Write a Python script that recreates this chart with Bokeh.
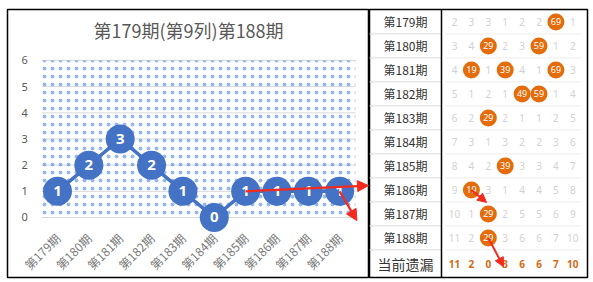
import math
from bokeh.plotting import figure
from bokeh.models import (Range1d, FixedTicker, Label, Arrow, NormalHead, Span,
                          ColumnDataSource)
from bokeh.layouts import row
from bokeh.embed import file_html
from bokeh.resources import INLINE
from bokeh.core.properties import value

# ---------------- data ----------------
periods = ["第179期", "第180期", "第181期", "第182期", "第183期",
           "第184期", "第185期", "第186期", "第187期", "第188期"]
counts = [1, 2, 3, 2, 1, 0, 1, 1, 1, 1]
y_ticks = [0, 1, 2, 3, 4, 5, 6]
title_text = "第179期(第9列)第188期"

table_rows = [
    ["2", "3", "3", "1", "2", "2", "69", "1"],
    ["3", "4", "29", "2", "3", "59", "1", "2"],
    ["4", "19", "1", "39", "4", "1", "69", "3"],
    ["5", "1", "2", "1", "49", "59", "1", "4"],
    ["6", "2", "29", "2", "1", "1", "2", "5"],
    ["7", "3", "1", "3", "2", "2", "3", "6"],
    ["8", "4", "2", "39", "3", "3", "4", "7"],
    ["9", "19", "3", "1", "4", "4", "5", "8"],
    ["10", "1", "29", "2", "5", "5", "6", "9"],
    ["11", "2", "29", "3", "6", "6", "7", "10"],
]
hit_values = ["19", "29", "39", "49", "59", "69"]
current_label = "当前遗漏"
current_miss = [11, 2, 0, 3, 6, 6, 7, 10]

CJK = "Noto Sans CJK SC"
NUM = "Noto Sans"
BLUE = "#4472C4"
ORANGE = "#E46C0A"
RED = "#F52A1E"

# ---------------- chart ----------------
p = figure(width=369, height=282, output_backend="svg", toolbar_location=None,
           x_range=Range1d(-1.595, 9.952), y_range=Range1d(-2.293, 7.948),
           min_border_left=7, min_border_right=0, min_border_top=9,
           min_border_bottom=5, outline_line_color="black",
           outline_line_width=1.5, background_fill_color="white",
           border_fill_color="white")
p.grid.visible = False

xs = list(range(len(periods)))

# y axis
p.yaxis.fixed_location = -0.5
p.yaxis.ticker = FixedTicker(ticks=y_ticks)
p.yaxis.axis_line_color = None
p.yaxis.major_tick_line_color = None
p.yaxis.minor_tick_line_color = None
p.yaxis.major_label_standoff = 8
p.yaxis.major_label_text_font = NUM
p.yaxis.major_label_text_font_size = "11px"
p.yaxis.major_label_text_color = "#595959"

# x axis
p.xaxis.fixed_location = -0.35
p.xaxis.ticker = FixedTicker(ticks=xs)
p.xaxis.major_label_overrides = {i: s for i, s in zip(xs, periods)}
p.xaxis.major_label_orientation = math.pi / 4
p.xaxis.axis_line_color = None
p.xaxis.major_tick_line_color = None
p.xaxis.minor_tick_line_color = None
p.xaxis.major_label_standoff = 3
p.xaxis.major_label_text_font = CJK
p.xaxis.major_label_text_font_size = "12px"
p.xaxis.major_label_text_color = "#7a7a7a"

# gridlines
p.segment(x0=[-0.5] * len(y_ticks), x1=[len(periods) - 0.5] * len(y_ticks),
          y0=y_ticks, y1=y_ticks, line_color="#d9d9d9", line_width=1)

# dotted plot area
p.quad(left=[-0.5], right=[len(periods) - 0.5], bottom=[y_ticks[0]],
       top=[y_ticks[-1]], fill_alpha=0, line_color=None,
       hatch_pattern="dot", hatch_color="#2f72dc", hatch_scale=8,
       hatch_weight=0.5, hatch_alpha=0.5)

src = ColumnDataSource(dict(x=xs, y=counts, t=[str(c) for c in counts]))
p.line("x", "y", source=src, line_color=BLUE, line_width=3.5)
p.scatter("x", "y", source=src, size=29, fill_color=BLUE, line_color=None)
p.text("x", "y", text="t", source=src, text_color="white",
       text_font=value(NUM), text_font_size="15px", text_font_style="bold",
       text_align="center", text_baseline="middle")

p.add_layout(Label(x=4.18, y=7.17, text=title_text, text_font=CJK,
                   text_font_size="18px", text_color="#595959",
                   text_align="center", text_baseline="middle"))

head = dict(size=11, fill_color=RED, line_color=RED)
p.add_layout(Arrow(end=NormalHead(**head), x_start=xs[6], y_start=counts[6],
                   x_end=9.92, y_end=1.22, line_color=RED, line_width=2.2))
p.add_layout(Arrow(end=NormalHead(**head), x_start=xs[9], y_start=counts[9],
                   x_end=9.55, y_end=-0.12, line_color=RED, line_width=2.2))

# ---------------- table ----------------
n = len(table_rows)
t = figure(width=224, height=282, output_backend="svg", toolbar_location=None,
           x_range=Range1d(-5.03, 7.87), y_range=Range1d(10.65, -0.517),
           min_border_left=0, min_border_right=6, min_border_top=9,
           min_border_bottom=5, outline_line_color="black",
           outline_line_width=1.5, background_fill_color="white",
           border_fill_color="white")
t.axis.visible = False
t.grid.visible = False

LABEL_X = -2.9
DIV_X = -0.77
cur_y = n + 0.1

# separators
seps = [i + 0.5 for i in range(n)]
t.segment(x0=[-5.1] * n, x1=[DIV_X] * n, y0=seps, y1=seps,
          line_color="#dadada", line_width=1)
t.segment(x0=[-0.55] * n, x1=[7.5] * n, y0=seps, y1=seps,
          line_color="#ececec", line_width=1)
t.add_layout(Span(location=DIV_X, dimension="height", line_color="black",
                  line_width=1.5))

t.text(x=[LABEL_X] * n, y=list(range(n)), text=periods, text_color="#333333",
       text_font=value(CJK), text_font_size="12px", text_align="center",
       text_baseline="middle")
t.text(x=[LABEL_X], y=[cur_y], text=[current_label], text_color="#333333",
       text_font=value(CJK), text_font_size="14px", text_align="center",
       text_baseline="middle")

gx, gy, gt, hx, hy, ht = [], [], [], [], [], []
for i, r in enumerate(table_rows):
    for j, v in enumerate(r):
        if v in hit_values and v[0] == str(j):
            hx.append(j); hy.append(i); ht.append(v)
        else:
            gx.append(j); gy.append(i); gt.append(v)

t.text(x=gx, y=gy, text=gt, text_color="#d2d2d2", text_font=value(NUM),
       text_font_size="10px", text_align="center", text_baseline="middle")
t.scatter(x=hx, y=hy, size=17, fill_color=ORANGE, line_color=None)
t.text(x=hx, y=hy, text=ht, text_color="white", text_font=value(NUM),
       text_font_size="9px", text_align="center", text_baseline="middle")

cx = list(range(len(current_miss)))
t.text(x=cx, y=[cur_y] * len(cx), text=[str(v) for v in current_miss],
       text_color="#D46A12", text_font=value(NUM), text_font_size="10px",
       text_font_style="bold", text_align="center", text_baseline="middle")

t.add_layout(Arrow(end=NormalHead(**dict(head, size=9)), x_start=1, y_start=7,
                   x_end=1.9, y_end=7.52, line_color=RED, line_width=2))
t.add_layout(Arrow(end=NormalHead(**dict(head, size=9)), x_start=2, y_start=9,
                   x_end=2.9, y_end=10.2, line_color=RED, line_width=2))

layout = row(p, t)
open("out.html", "w").write(file_html(layout, INLINE))
